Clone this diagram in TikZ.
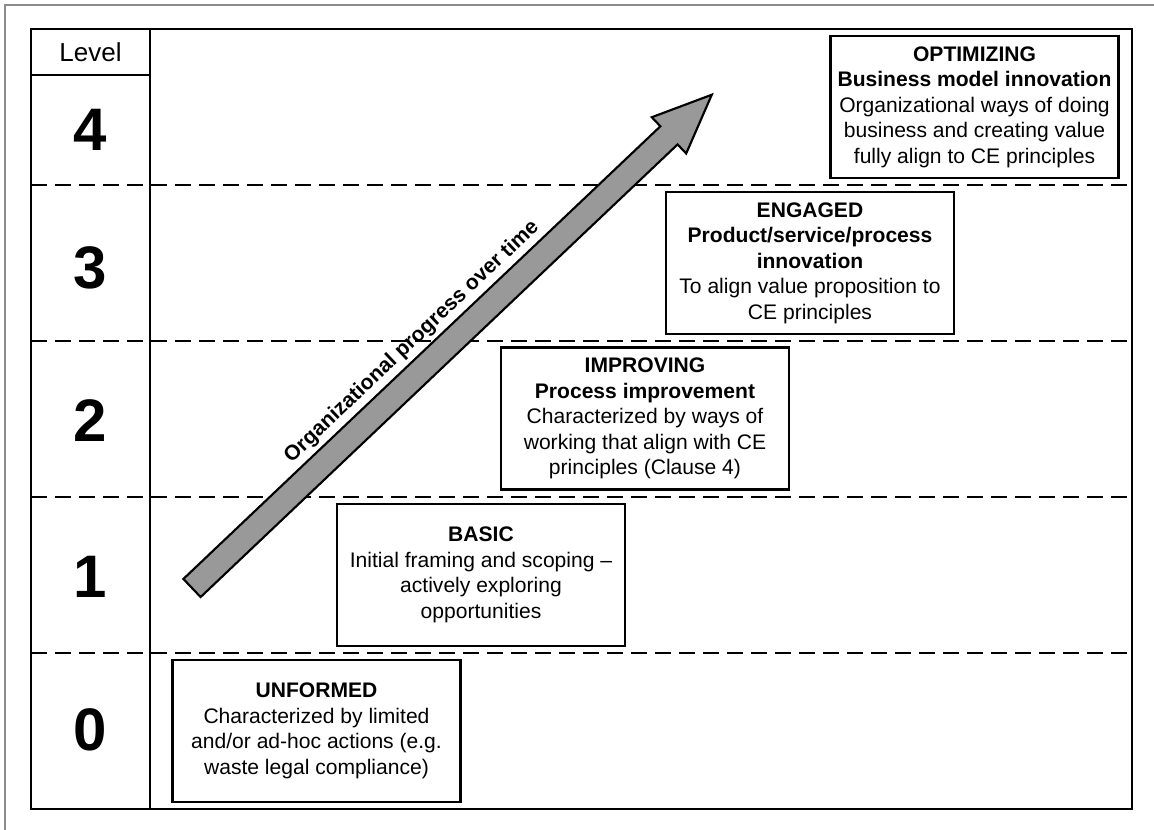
\documentclass[tikz,border=0pt]{standalone}
\usepackage{fontspec}
\setmainfont{Liberation Sans}
\usetikzlibrary{calc}

\tikzset{
  levelbox/.style={draw=black, line width=2.1pt, fill=white, align=center,
    minimum width=216pt, minimum height=106.5pt, inner sep=0pt,
    font=\fontsize{15.8pt}{19.1pt}\selectfont},
  levelnum/.style={font=\fontsize{45pt}{50pt}\selectfont\bfseries},
}

\begin{document}
\begin{tikzpicture}[x=0.75pt, y=-0.75pt]
\useasboundingbox (0,0) rectangle (1154,830);
% frame and table
\draw[black!45, line width=1.1pt] (5,5) rectangle (1180,860);
\draw[black, line width=2.1pt] (31,29) rectangle (1132,809);
\draw[black, line width=1.5pt] (150,29) -- (150,809);
\draw[black, line width=1.5pt] (31,75) -- (150,75);
\foreach \y in {185,341,497,653} {
 \draw[black, line width=1.1pt, dash pattern=on 12pt off 6pt] (31,\y) -- (1132,\y);
}
\node (lvl) at (90.5,52) {\fontsize{19.5pt}{22pt}\selectfont Level};
\foreach \n/\y in {4/130,3/268,2/421,1/577,0/730} {
 \node[levelnum] (lvl\n) at (90.5,\y) {\n};
}
% progress arrow
\coordinate (tail) at (192,588);
\coordinate (tip) at (712,95);
\begin{scope}[shift={(tail)}, rotate=43.5]
\draw[black, line width=1.6pt, fill=black!40, line join=miter]
 (0,-12.5) -- (657.6,-12.5) -- (657.6,-25) -- (716.6,0) -- (657.6,25) -- (657.6,12.5) -- (0,12.5) -- cycle;
\end{scope}
\node[rotate=43.5, font=\fontsize{15.8pt}{19pt}\selectfont\bfseries] (progress) at (412,342) {Organizational progress over time};
% levels
\node[levelbox] (unformed) at (316.5,731) {\textbf{UNFORMED}\\Characterized by limited\\and/or ad-hoc actions (e.g.\\waste legal compliance)};
\node[levelbox] (basic) at (481,575) {\textbf{BASIC}\\Initial framing and scoping –\\actively exploring\\opportunities};
\node[levelbox] (improving) at (645,418.5) {\textbf{IMPROVING}\\\textbf{Process improvement}\\Characterized by ways of\\working that align with CE\\principles (Clause 4)};
\node[levelbox] (engaged) at (810,263) {\textbf{ENGAGED}\\\textbf{Product/service/process}\\\textbf{innovation}\\To align value proposition to\\CE principles};
\node[levelbox] (optimizing) at (974.5,107) {\textbf{OPTIMIZING}\\\textbf{Business model innovation}\\Organizational ways of doing\\business and creating value\\fully align to CE principles};
\end{tikzpicture}
\end{document}
